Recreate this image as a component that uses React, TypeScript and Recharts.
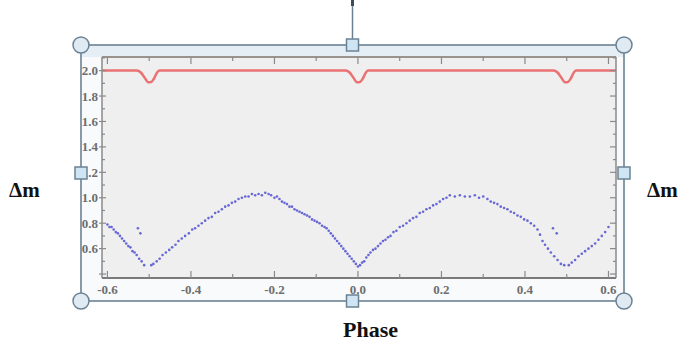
import { ComposedChart, Scatter, Line, XAxis, YAxis, CartesianGrid } from 'recharts';

// light curve: phase vs delta magnitude (blue points)
const lightCurve = [
  [-0.6, 0.79], [-0.595, 0.77], [-0.59, 0.77], [-0.585, 0.75], [-0.58, 0.73], [-0.575, 0.72],
  [-0.57, 0.7], [-0.565, 0.68], [-0.56, 0.66], [-0.555, 0.64], [-0.55, 0.62], [-0.545, 0.61],
  [-0.54, 0.58], [-0.535, 0.57], [-0.53, 0.55], [-0.524, 0.52], [-0.518, 0.5], [-0.512, 0.47],
  [-0.527, 0.76], [-0.521, 0.72],
  [-0.495, 0.47], [-0.49, 0.48], [-0.482, 0.5], [-0.475, 0.52], [-0.468, 0.55], [-0.46, 0.57],
  [-0.452, 0.59], [-0.445, 0.61], [-0.437, 0.63], [-0.43, 0.66], [-0.422, 0.68], [-0.414, 0.7],
  [-0.405, 0.72], [-0.397, 0.75], [-0.39, 0.76], [-0.382, 0.78], [-0.374, 0.8], [-0.366, 0.82],
  [-0.358, 0.84], [-0.35, 0.85], [-0.342, 0.88], [-0.334, 0.89], [-0.326, 0.91], [-0.318, 0.93],
  [-0.31, 0.94], [-0.302, 0.96], [-0.294, 0.97], [-0.286, 0.99], [-0.278, 1.0], [-0.27, 1.01],
  [-0.262, 1.01], [-0.254, 1.03], [-0.246, 1.02], [-0.238, 1.03], [-0.23, 1.02], [-0.222, 1.04],
  [-0.214, 1.03], [-0.208, 1.02],
  [-0.2, 1.0], [-0.194, 1.01], [-0.188, 0.99], [-0.182, 0.97], [-0.176, 0.96], [-0.17, 0.95],
  [-0.164, 0.93], [-0.158, 0.93], [-0.152, 0.91], [-0.146, 0.9], [-0.14, 0.89], [-0.134, 0.88],
  [-0.128, 0.87], [-0.122, 0.86], [-0.116, 0.85], [-0.11, 0.83], [-0.104, 0.82], [-0.098, 0.81],
  [-0.092, 0.8], [-0.086, 0.78], [-0.08, 0.77], [-0.075, 0.76], [-0.07, 0.74], [-0.065, 0.72],
  [-0.06, 0.7], [-0.055, 0.68], [-0.05, 0.66], [-0.045, 0.64], [-0.04, 0.62], [-0.035, 0.6],
  [-0.03, 0.58], [-0.025, 0.56], [-0.02, 0.54], [-0.015, 0.52], [-0.01, 0.5], [-0.005, 0.48],
  [0.0, 0.46],
  [0.005, 0.47], [0.01, 0.49], [0.015, 0.5], [0.02, 0.53], [0.025, 0.55], [0.03, 0.57],
  [0.036, 0.59], [0.042, 0.6], [0.048, 0.62], [0.054, 0.64], [0.06, 0.66], [0.066, 0.67],
  [0.072, 0.69], [0.078, 0.7], [0.085, 0.73], [0.092, 0.74], [0.1, 0.77], [0.108, 0.78],
  [0.116, 0.8], [0.124, 0.82], [0.132, 0.84], [0.14, 0.85], [0.148, 0.88], [0.156, 0.89],
  [0.164, 0.91], [0.172, 0.92], [0.18, 0.94], [0.188, 0.95], [0.196, 0.97], [0.204, 0.99],
  [0.212, 1.0], [0.22, 1.02], [0.232, 1.01], [0.244, 1.02], [0.256, 1.01], [0.268, 1.01],
  [0.28, 1.02], [0.29, 1.0], [0.3, 1.01],
  [0.31, 0.99], [0.318, 0.97], [0.326, 0.96], [0.334, 0.95], [0.342, 0.93], [0.35, 0.92],
  [0.358, 0.91], [0.366, 0.89], [0.374, 0.88], [0.382, 0.86], [0.39, 0.85], [0.398, 0.83],
  [0.406, 0.82], [0.414, 0.8], [0.422, 0.78], [0.43, 0.75], [0.436, 0.71], [0.442, 0.66],
  [0.448, 0.63], [0.455, 0.6], [0.462, 0.57], [0.47, 0.54], [0.478, 0.51], [0.486, 0.48],
  [0.494, 0.47],
  [0.467, 0.76], [0.476, 0.72],
  [0.505, 0.47], [0.512, 0.49], [0.52, 0.51], [0.528, 0.54], [0.536, 0.56], [0.544, 0.58],
  [0.552, 0.6], [0.56, 0.62], [0.568, 0.64], [0.576, 0.67], [0.584, 0.7], [0.592, 0.73],
  [0.6, 0.77],
];

// red curve (flat at 2.0 with shallow dips at the eclipses)
const redCurve = [
  [-0.613, 2.0], [-0.53, 2.0], [-0.52, 1.985], [-0.51, 1.94], [-0.502, 1.908], [-0.495, 1.91],
  [-0.488, 1.94], [-0.481, 1.985], [-0.475, 2.0],
  [-0.03, 2.0], [-0.02, 1.985], [-0.01, 1.94], [-0.002, 1.908], [0.005, 1.91], [0.012, 1.94],
  [0.019, 1.985], [0.025, 2.0],
  [0.468, 2.0], [0.478, 1.985], [0.488, 1.94], [0.496, 1.908], [0.503, 1.91], [0.51, 1.94],
  [0.517, 1.985], [0.523, 2.0], [0.618, 2.0],
];

const xTicks = [-0.6, -0.5, -0.4, -0.3, -0.2, -0.1, 0, 0.1, 0.2, 0.3, 0.4, 0.5, 0.6];
const yTicks = [0.4, 0.5, 0.6, 0.7, 0.8, 0.9, 1.0, 1.1, 1.2, 1.3, 1.4, 1.5, 1.6, 1.7, 1.8, 1.9, 2.0, 2.1];

const pointData = lightCurve.map(([phase, value]) => ({ phase, value }));
const lineData = redCurve.map(([phase, value]) => ({ phase, value }));

const AXIS = '#8a8a8a';
const LABEL = '#6e6e6e';
const SERIF = '"Liberation Serif", "Times New Roman", serif';
const isMajor = (v: number) => Math.round(v * 10) % 2 === 0;

const BottomTick = ({ x, y, payload }: any) => {
  const major = isMajor(payload.value);
  return (
    <g>
      <line x1={x} x2={x} y1={y} y2={y - (major ? 7 : 4)} stroke={AXIS} strokeWidth={1.2} />
      {major && (
        <text x={x} y={y + 16} textAnchor="middle" fill={LABEL} fontFamily={SERIF} fontSize={13} fontWeight={700}>
          {payload.value.toFixed(1)}
        </text>
      )}
    </g>
  );
};

const TopTick = ({ x, y, payload }: any) => (
  <line x1={x} x2={x} y1={y} y2={y + (isMajor(payload.value) ? 7 : 4)} stroke={AXIS} strokeWidth={1.2} />
);

const LeftTick = ({ x, y, payload }: any) => {
  const v = payload.value;
  const major = isMajor(v);
  const labelled = major && v > 0.5 && v < 2.05;
  return (
    <g>
      <line x1={major ? x - 3 : x} x2={x + (major ? 4 : 3)} y1={y} y2={y} stroke={AXIS} strokeWidth={1.2} />
      {labelled && (
        <text x={x - 4} y={y + 4.5} textAnchor="end" fill={LABEL} fontFamily={SERIF} fontSize={13} fontWeight={700}>
          {v.toFixed(1)}
        </text>
      )}
    </g>
  );
};

const RightTick = ({ x, y, payload }: any) => (
  <line x1={x} x2={x - (isMajor(payload.value) ? 6 : 3)} y1={y} y2={y} stroke={AXIS} strokeWidth={1.2} />
);

const Dot = ({ cx, cy }: any) => <circle cx={cx} cy={cy} r={1.3} fill="#4f4fd0" fillOpacity={0.85} />;

// selection frame drawn around the embedded chart
const FRAME = { x: 81, y: 45, w: 543, h: 256 };
const HANDLE_STROKE = '#6b8294';

function Handles() {
  const { x, y, w, h } = FRAME;
  const cx = x + w / 2;
  const cy = y + h / 2;
  const corners = [[x, y], [x + w, y], [x, y + h], [x + w, y + h]];
  const mids = [[cx, y], [cx, y + h], [x, cy], [x + w, cy]];
  return (
    <svg width={680} height={344} style={{ position: 'absolute', left: 0, top: 0, pointerEvents: 'none' }}>
      <line x1={cx} x2={cx} y1={2} y2={y} stroke={HANDLE_STROKE} strokeWidth={1.5} />
      <line x1={cx} x2={cx} y1={0} y2={6} stroke="#3f4b57" strokeWidth={3} />
      <rect x={x} y={y} width={w} height={h} fill="none" stroke={HANDLE_STROKE} strokeWidth={1.6} />
      {corners.map(([px, py], i) => (
        <circle key={i} cx={px} cy={py} r={8} fill="#dfeaf3" stroke={HANDLE_STROKE} strokeWidth={1.5} />
      ))}
      {mids.map(([px, py], i) => (
        <rect key={i} x={px - 6} y={py - 6} width={12} height={12} fill="#cfe5f4" stroke={HANDLE_STROKE} strokeWidth={1.5} />
      ))}
      <text x={9} y={197} fontSize={21} fontFamily={SERIF} fontWeight={700} fill="#111">Δm</text>
      <text x={647} y={197} fontSize={21} fontFamily={SERIF} fontWeight={700} fill="#111">Δm</text>
      <text x={343} y={337} fontSize={22} fontFamily={SERIF} fontWeight={700} fill="#111">Phase</text>
    </svg>
  );
}

export default function App() {
  const { x, y, w, h } = FRAME;
  return (
    <div style={{ position: 'absolute', left: 0, top: 0, width: 680, height: 344, background: '#fff', overflow: 'hidden' }}>
      <svg width={680} height={344} style={{ position: 'absolute', left: 0, top: 0 }}>
        <rect x={x} y={y} width={w} height={h} fill="#f8fafb" />
        <rect x={x} y={y} width={w} height={12} fill="#e6eef5" />
      </svg>
      <div style={{ position: 'absolute', left: 0, top: 0 }}>
        <ComposedChart width={680} height={344} margin={{ top: 56, right: 63, bottom: 65, left: 101 }}>
          <CartesianGrid horizontal={false} vertical={false} fill="#efefef" />
          <XAxis
            xAxisId="b"
            type="number"
            dataKey="phase"
            domain={[-0.613, 0.618]}
            ticks={xTicks}
            allowDataOverflow
            height={1}
            tickSize={0}
            tickMargin={0}
            interval={0}
            tick={<BottomTick />}
            tickLine={false}
            axisLine={{ stroke: '#7a7a7a', strokeWidth: 2 }}
          />
          <XAxis
            xAxisId="t"
            orientation="top"
            type="number"
            dataKey="phase"
            domain={[-0.613, 0.618]}
            ticks={xTicks}
            allowDataOverflow
            height={1}
            tickSize={0}
            tickMargin={0}
            interval={0}
            tick={<TopTick />}
            tickLine={false}
            axisLine={{ stroke: '#9a928c', strokeWidth: 2 }}
          />
          <YAxis
            yAxisId="l"
            type="number"
            domain={[0.369, 2.107]}
            ticks={yTicks}
            allowDataOverflow
            width={1}
            tickSize={0}
            tickMargin={0}
            interval={0}
            tick={<LeftTick />}
            tickLine={false}
            axisLine={{ stroke: AXIS, strokeWidth: 1.5 }}
          />
          <YAxis
            yAxisId="r"
            orientation="right"
            type="number"
            domain={[0.369, 2.107]}
            ticks={yTicks}
            allowDataOverflow
            width={1}
            tickSize={0}
            tickMargin={0}
            interval={0}
            tick={<RightTick />}
            tickLine={false}
            axisLine={{ stroke: AXIS, strokeWidth: 1.5 }}
          />
          <Line
            xAxisId="b"
            yAxisId="l"
            data={lineData}
            dataKey="value"
            type="monotone"
            stroke="#ea7272"
            strokeWidth={2.5}
            dot={false}
            isAnimationActive={false}
          />
          <Scatter
            xAxisId="b"
            yAxisId="l"
            data={pointData}
            dataKey="value"
            shape={<Dot />}
            isAnimationActive={false}
          />
        </ComposedChart>
      </div>
      <Handles />
    </div>
  );
}
